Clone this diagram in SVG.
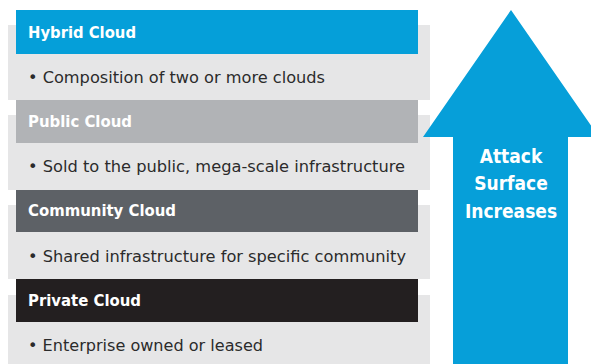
<svg xmlns="http://www.w3.org/2000/svg" width="591" height="364" viewBox="0 0 591 364">
  <style>
    .panel { fill: #e6e6e7; }
    .head-text { font-family: "DejaVu Sans Condensed", "Liberation Sans", sans-serif; font-stretch: condensed; font-weight: bold; font-size: 16.5px; fill: #ffffff; }
    .body-text { font-family: "DejaVu Sans Condensed", "Liberation Sans", sans-serif; font-stretch: condensed; font-size: 16.5px; fill: #2b2b2b; }
    .arrow-text { font-family: "DejaVu Sans Condensed", "Liberation Sans", sans-serif; font-stretch: condensed; font-weight: bold; font-size: 19px; fill: #ffffff; text-anchor: middle; }
  </style>
  <rect width="591" height="364" fill="#ffffff"/>

  <!-- Cloud layers, top to bottom -->
  <g id="hybrid-cloud">
    <rect class="panel" x="8" y="25" width="422" height="75"/>
    <rect x="16" y="10" width="402" height="44" fill="#059fd9"/>
    <text class="head-text" x="28" y="38" textLength="108" lengthAdjust="spacingAndGlyphs">Hybrid Cloud</text>
    <text class="body-text" x="28" y="83" textLength="297" lengthAdjust="spacingAndGlyphs">• Composition of two or more clouds</text>
  </g>

  <g id="public-cloud">
    <rect class="panel" x="8" y="115" width="422" height="75"/>
    <rect x="16" y="100" width="402" height="43" fill="#b1b3b6"/>
    <text class="head-text" x="28" y="127" textLength="104" lengthAdjust="spacingAndGlyphs">Public Cloud</text>
    <text class="body-text" x="28" y="172" textLength="377" lengthAdjust="spacingAndGlyphs">• Sold to the public, mega-scale infrastructure</text>
  </g>

  <g id="community-cloud">
    <rect class="panel" x="8" y="205" width="422" height="74"/>
    <rect x="16" y="190" width="402" height="42" fill="#5d6166"/>
    <text class="head-text" x="28" y="216" textLength="148" lengthAdjust="spacingAndGlyphs">Community Cloud</text>
    <text class="body-text" x="28" y="262" textLength="378" lengthAdjust="spacingAndGlyphs">• Shared infrastructure for specific community</text>
  </g>

  <g id="private-cloud">
    <rect class="panel" x="8" y="295" width="422" height="69"/>
    <rect x="16" y="279" width="402" height="43" fill="#231f20"/>
    <text class="head-text" x="28" y="306" textLength="113" lengthAdjust="spacingAndGlyphs">Private Cloud</text>
    <text class="body-text" x="28" y="351" textLength="235" lengthAdjust="spacingAndGlyphs">• Enterprise owned or leased</text>
  </g>

  <!-- Upward arrow -->
  <g id="attack-surface">
    <polygon points="511,10 599,137 568,137 568,364 453,364 453,137 423,137" fill="#069fd9"/>
    <text class="arrow-text" x="511" y="163">Attack</text>
    <text class="arrow-text" x="511" y="190">Surface</text>
    <text class="arrow-text" x="511" y="218">Increases</text>
  </g>
</svg>
